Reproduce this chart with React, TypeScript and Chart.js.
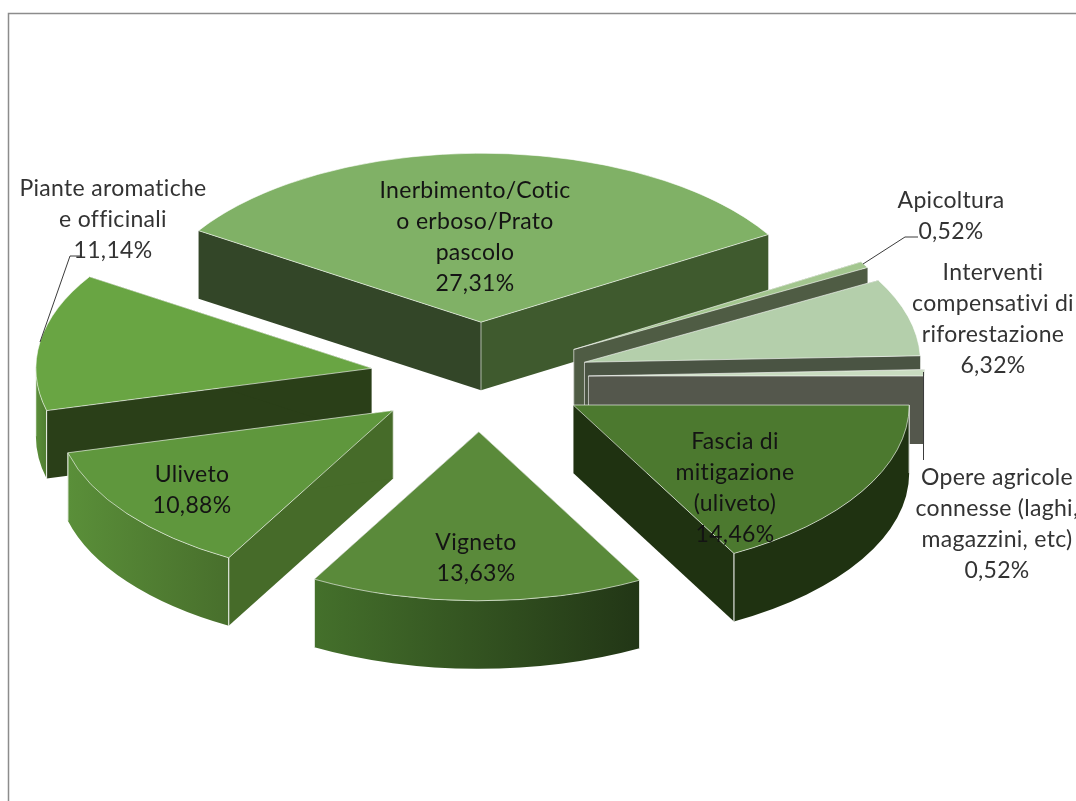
import React, { useEffect, useRef } from "react";
import { Chart, registerables } from "chart.js";

Chart.register(...registerables);

// Land-use shares, clockwise from the top slice.
const categories = [
  "Inerbimento/Cotico erboso/Prato pascolo",
  "Apicoltura",
  "Interventi compensativi di riforestazione",
  "Opere agricole connesse (laghi, magazzini, etc)",
  "Fascia di mitigazione (uliveto)",
  "Vigneto",
  "Uliveto",
  "Piante aromatiche e officinali",
];
const values = [27.31, 0.52, 6.32, 0.52, 14.46, 13.63, 10.88, 11.14];

// Wrapped label text, one list per slice.
const labelLines = [
  ["Inerbimento/Cotic", "o erboso/Prato", "pascolo"],
  ["Apicoltura"],
  ["Interventi", "compensativi di", "riforestazione"],
  ["Opere agricole", "connesse (laghi,", "magazzini, etc)"],
  ["Fascia di", "mitigazione", "(uliveto)"],
  ["Vigneto"],
  ["Uliveto"],
  ["Piante aromatiche", "e officinali"],
];

// Slice styling.
const topColors = ["#80b166", "#a3c68f", "#b4cfab", "#c9dcc0", "#4c792f", "#5a8a3a", "#5f973d", "#69a543"];
const startWallColors = ["#334628", "#4f5c44", "#4a5443", "#54574c", "#1f3211", "#3f6427", "#466b29", "#2a3f18"];
const endWallColors = ["#3f5a2e", "#4f5c44", "#4a5443", "#54574c", "#1f3211", "#23391a", "#466b29", "#2a3f18"];
const curveWallStops = [
  ["#3f5a2e", "#3f5a2e"],
  ["#4f5c44", "#4f5c44"],
  ["#4a5443", "#4a5443"],
  ["#54574c", "#54574c"],
  ["#1f3211", "#1f3211"],
  ["#44702b", "#223616"],
  ["#5a8f39", "#486f2c"],
  ["#5c8f3a", "#4f7d31"],
];

// Painter's order: back slices first, front slices last.
const drawOrder = [0, 1, 2, 3, 7, 6, 4, 5];

// Pie projection.
const RADIUS = 336;
const EXPLODE = 109;
const TILT = 0.503;
const DEPTH = 68;
const CENTER_X = 479.5;
const CENTER_Y = 377;
const WIDTH = 1076;
const HEIGHT = 801;
const RIM = "rgba(255,255,255,0.6)";

// Label anchors: centre x and the middle y of the first line.
const labelAnchors = [
  [475, 191],
  [951, 201],
  [993, 273],
  [997, 478],
  [735, 442],
  [476, 543],
  [192, 475],
  [113, 189],
];
const LINE_HEIGHT = 31;
const darkLabels = [true, false, false, false, true, true, true, false];

// Leader lines for the slices labelled outside the pie.
const leaders = [
  [[40, 342], [70, 256], [82, 256]],
  [[863, 264], [905, 237], [918, 237]],
  [[923.5, 372], [923.5, 460]],
];

const frame = {
  id: "frame",
  beforeDraw(chart: any) {
    const { ctx } = chart;
    ctx.save();
    ctx.fillStyle = "#ffffff";
    ctx.fillRect(0, 0, WIDTH, HEIGHT);
    ctx.strokeStyle = "#8c8c8c";
    ctx.lineWidth = 1.5;
    ctx.beginPath();
    ctx.moveTo(8.5, HEIGHT);
    ctx.lineTo(8.5, 13.5);
    ctx.lineTo(WIDTH, 13.5);
    ctx.stroke();
    ctx.restore();
  },
};

// Extrudes the library's arc elements into an exploded, tilted pie.
const extrudedPie = {
  id: "extrudedPie",
  beforeDatasetsDraw(chart: any) {
    const { ctx } = chart;
    const arcs = chart.getDatasetMeta(0).data;

    drawOrder.forEach((i) => {
      const arc = arcs[i];
      const { x, y, startAngle: s, endAngle: e, outerRadius: r } = arc.getProps([
        "x",
        "y",
        "startAngle",
        "endAngle",
        "outerRadius",
      ]);
      const mid = (s + e) / 2;
      const ax = x + Math.cos(mid) * EXPLODE;
      const ay = y + Math.sin(mid) * EXPLODE * TILT;
      const px = (a: number) => ax + Math.cos(a) * r;
      const py = (a: number) => ay + Math.sin(a) * r * TILT;

      const wall = (a: number, color: string) => {
        ctx.fillStyle = color;
        ctx.beginPath();
        ctx.moveTo(ax, ay);
        ctx.lineTo(px(a), py(a));
        ctx.lineTo(px(a), py(a) + DEPTH);
        ctx.lineTo(ax, ay + DEPTH);
        ctx.closePath();
        ctx.fill();
      };
      const vertical = (vx: number, vy: number) => {
        ctx.strokeStyle = RIM;
        ctx.lineWidth = 1;
        ctx.beginPath();
        ctx.moveTo(vx, vy);
        ctx.lineTo(vx, vy + DEPTH);
        ctx.stroke();
      };

      ctx.save();
      wall(s, startWallColors[i]);
      wall(e, endWallColors[i]);
      vertical(ax, ay);

      // Outer curved wall, only the part facing the viewer.
      const a0 = Math.max(s, 0);
      const a1 = Math.min(e, Math.PI);
      if (a0 < a1) {
        const g = ctx.createLinearGradient(
          Math.min(px(a0), px(a1)),
          0,
          Math.max(px(a0), px(a1)),
          0
        );
        g.addColorStop(0, curveWallStops[i][0]);
        g.addColorStop(1, curveWallStops[i][1]);
        ctx.fillStyle = g;
        ctx.beginPath();
        ctx.ellipse(ax, ay, r, r * TILT, 0, a0, a1, false);
        ctx.ellipse(ax, ay + DEPTH, r, r * TILT, 0, a1, a0, true);
        ctx.closePath();
        ctx.fill();
        vertical(px(a0), py(a0));
        vertical(px(a1), py(a1));
      }
      if (Math.sin(s) > 0) vertical(px(s), py(s));
      if (Math.sin(e) > 0) vertical(px(e), py(e));
      ctx.restore();

      // Top face: the arc element itself, drawn through the tilted projection.
      ctx.save();
      ctx.translate(ax, ay);
      ctx.scale(1, TILT);
      ctx.translate(-x, -y);
      arc.draw(ctx);
      ctx.restore();

      ctx.save();
      ctx.strokeStyle = RIM;
      ctx.lineWidth = 1;
      ctx.beginPath();
      ctx.moveTo(ax, ay);
      ctx.ellipse(ax, ay, r, r * TILT, 0, s, e, false);
      ctx.closePath();
      ctx.stroke();
      ctx.restore();
    });
    return false;
  },
};

const sliceLabels = {
  id: "sliceLabels",
  afterDraw(chart: any) {
    const { ctx } = chart;
    ctx.save();
    ctx.strokeStyle = "#3c3c3c";
    ctx.lineWidth = 1;
    leaders.forEach((pts) => {
      ctx.beginPath();
      pts.forEach(([lx, ly], n) => (n ? ctx.lineTo(lx, ly) : ctx.moveTo(lx, ly)));
      ctx.stroke();
    });
    ctx.font = '23px Lato, "Open Sans", sans-serif';
    ctx.letterSpacing = "0.3px";
    ctx.textAlign = "center";
    ctx.textBaseline = "middle";
    labelLines.forEach((lines, i) => {
      const pct = values[i].toFixed(2).replace(".", ",") + "%";
      ctx.fillStyle = darkLabels[i] ? "#141414" : "#333333";
      [...lines, pct].forEach((text, n) => {
        ctx.fillText(text, labelAnchors[i][0], labelAnchors[i][1] + n * LINE_HEIGHT);
      });
    });
    ctx.restore();
  },
};

export default function App() {
  const ref = useRef<HTMLCanvasElement>(null);
  useEffect(() => {
    const chart = new Chart(ref.current!, {
      type: "pie",
      data: {
        labels: categories,
        datasets: [
          {
            data: values,
            backgroundColor: topColors,
            borderWidth: 0,
            clip: false,
          } as any,
        ],
      },
      options: {
        animation: false,
        responsive: false,
        rotation: -57.2,
        radius: RADIUS,
        events: [],
        layout: {
          padding: {
            left: 0,
            top: 0,
            right: WIDTH - 2 * CENTER_X,
            bottom: HEIGHT - 2 * CENTER_Y,
          },
        },
        plugins: { legend: { display: false }, tooltip: { enabled: false } },
      } as any,
      plugins: [frame, extrudedPie, sliceLabels],
    });
    return () => chart.destroy();
  }, []);
  return (
    <canvas
      ref={ref}
      width={WIDTH}
      height={HEIGHT}
      style={{ position: "fixed", left: 0, top: 0, display: "block" }}
    />
  );
}
